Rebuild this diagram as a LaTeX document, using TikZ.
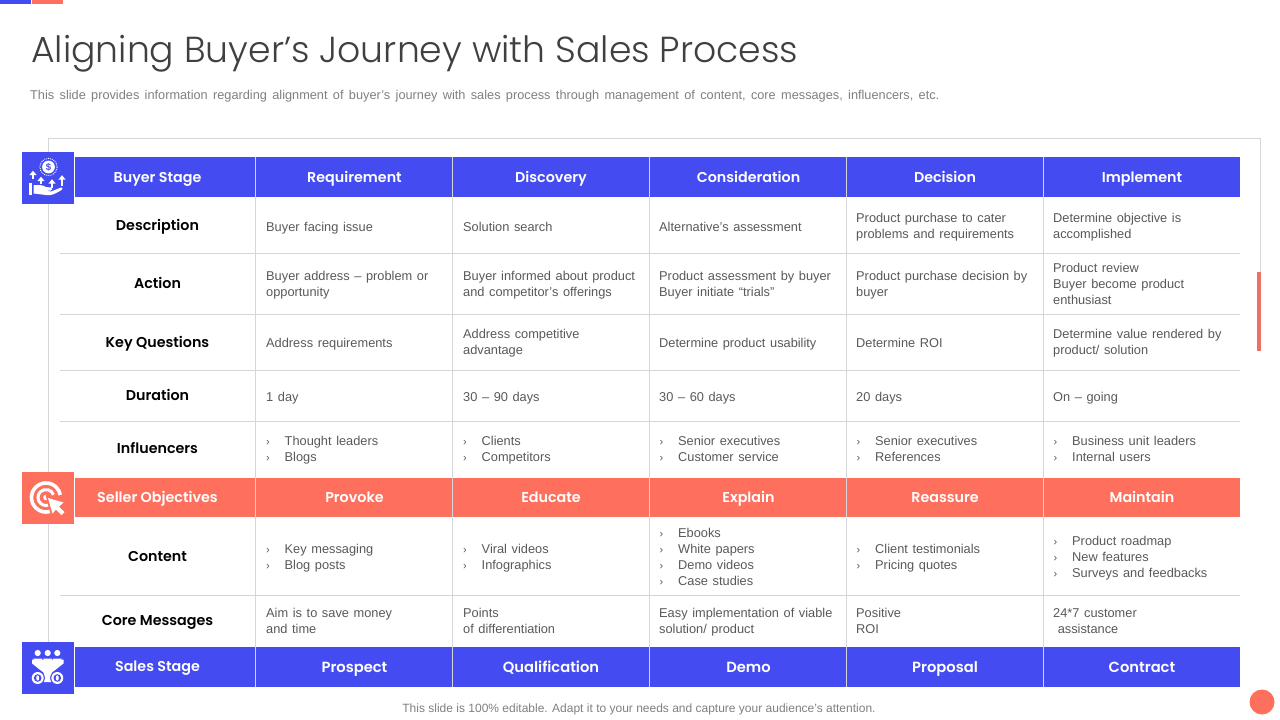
\documentclass[tikz,border=0pt]{standalone}
\usepackage{fontspec}
\setmainfont{Liberation Sans}
\newfontfamily\headf{Poppins SemiBold}
\newfontfamily\titlef{Poppins Light}
\definecolor{blu}{HTML}{444BF0}
\definecolor{cor}{HTML}{FE705D}
\definecolor{txt}{HTML}{595959}
\definecolor{grd}{HTML}{D5D6DA}
\definecolor{ttl}{HTML}{404040}
\tikzset{
 px/.style={x=1pt,y=-1pt},
 cell/.style={anchor=west,inner sep=0pt,yshift=-2pt,align=left,text=txt,font=\fontsize{12.8}{16}\selectfont,execute at begin node={\spaceskip=0.36em plus 1pt\strut},execute at end node={\strut}},
 rowh/.style={anchor=center,inner sep=0pt,yshift=-1.5pt,text height=10pt,text depth=3pt,font=\headf\fontsize{14.3}{16}\selectfont,text=black},
 hdr/.style={anchor=center,inner sep=0pt,yshift=-1.5pt,text height=10pt,text depth=3pt,font=\headf\fontsize{14.3}{16}\selectfont,text=white},
 hdrl/.style={anchor=center,inner sep=0pt,yshift=-1.5pt,text height=11pt,text depth=3pt,font=\headf\fontsize{14.7}{16}\selectfont,text=white},
 gline/.style={draw=grd,line width=0.8pt},
 iconbox/.style={draw=none,minimum width=52pt,minimum height=52pt,inner sep=0pt},
}
\newcommand{\bul}{\makebox[18.5pt][l]{\fontsize{11}{16}\selectfont ›}}
\begin{document}
\begin{tikzpicture}[px]
\useasboundingbox (0,0) rectangle (1280,720);
\fill[white] (0,0) rectangle (1280,720);
\fill[blu] (0,0) rectangle (31,4);
\fill[cor] (32,0) rectangle (63,4);
\node[anchor=west,inner sep=0pt,text=ttl,font=\titlef\fontsize{36.2}{40}\selectfont] (title) at (31,53.5) {Aligning Buyer’s Journey with Sales Process};
\node[anchor=west,inner sep=0pt,text=gray,font=\fontsize{12.75}{14}\selectfont] (sub) at (30,96.5) {\spaceskip=0.42em This slide provides information regarding alignment of buyer’s journey with sales process through management of content, core messages, influencers, etc.};
% frame
\draw[gline] (48,642) -- (48,138) -- (1260,138) -- (1260,351);
\fill[cor!85!gray] (1257,272) rectangle (1261,351);
% bands
\fill[blu] (75,157) rectangle (1240,197);
\fill[cor] (75,477.5) rectangle (1240,517);
\fill[blu] (75,646.5) rectangle (1240,687);
% rows
\foreach \y in {253,314,370,421,595}{\draw[gline] (60,\y) -- (1240,\y);}
\foreach \x in {256,453,650,847,1044}{\draw[gline] (\x-0.3,157) -- (\x-0.3,687);}
% headers
\foreach \n/\x/\t in {a/157.5/Buyer Stage,b/354.5/Requirement,c/551/Discovery,d/748.5/Consideration,e/945/Decision,f/1142/Implement}
 \node[hdr] (h\n) at (\x,177.5) {\t};
\foreach \n/\x/\t in {a/157.5/Seller Objectives,b/354.5/Provoke,c/551/Educate,d/748.5/Explain,e/945/Reassure,f/1142/Maintain}
 \node[hdr] (s\n) at (\x,497.5) {\t};
\node[hdr] (za) at (157.5,666) {Sales Stage};
\foreach \n/\x/\t in {b/354.5/Prospect,c/551/Qualification,d/748.5/Demo,e/945/Proposal,f/1142/Contract}
 \node[hdrl] (z\n) at (\x,667) {\t};
% row heads
\foreach \n/\y/\t in {a/225.5/Description,b/283.5/Action,c/342.5/Key Questions,d/395.5/Duration,e/448.5/Influencers,f/556.5/Content,g/620.5/Core Messages}
 \node[rowh] (r\n) at (157.5,\y) {\t};
% cells
\node[cell] (c11) at (266,226) {Buyer facing issue};
\node[cell] (c12) at (463,226) {Solution search};
\node[cell] (c13) at (659,226) {Alternative's assessment};
\node[cell] (c14) at (856,226) {Product purchase to cater\\problems and requirements};
\node[cell] (c15) at (1053,226) {Determine objective is\\accomplished};
\node[cell] (c21) at (266,284) {Buyer address – problem or\\opportunity};
\node[cell] (c22) at (463,284) {Buyer informed about product\\and competitor’s offerings};
\node[cell] (c23) at (659,284) {Product assessment by buyer\\Buyer initiate “trials”};
\node[cell] (c24) at (856,284) {Product purchase decision by\\buyer};
\node[cell] (c25) at (1053,284) {Product review\\Buyer become product\\enthusiast};
\node[cell] (c31) at (266,342) {Address requirements};
\node[cell] (c32) at (463,342) {Address competitive\\advantage};
\node[cell] (c33) at (659,342) {Determine product usability};
\node[cell] (c34) at (856,342) {Determine ROI};
\node[cell] (c35) at (1053,342) {Determine value rendered by\\product/ solution};
\node[cell] (c41) at (266,396) {1 day};
\node[cell] (c42) at (463,396) {30 – 90 days};
\node[cell] (c43) at (659,396) {30 – 60 days};
\node[cell] (c44) at (856,396) {20 days};
\node[cell] (c45) at (1053,396) {On – going};
\node[cell] (c51) at (266,449) {\bul Thought leaders\\\bul Blogs};
\node[cell] (c52) at (463,449) {\bul Clients\\\bul Competitors};
\node[cell] (c53) at (659.5,449) {\bul Senior executives\\\bul Customer service};
\node[cell] (c54) at (856.5,449) {\bul Senior executives\\\bul References};
\node[cell] (c55) at (1053.5,449) {\bul Business unit leaders\\\bul Internal users};
\node[cell] (c61) at (266,557) {\bul Key messaging\\\bul Blog posts};
\node[cell] (c62) at (463,557) {\bul Viral videos\\\bul Infographics};
\node[cell] (c63) at (659.5,557) {\bul Ebooks\\\bul White papers\\\bul Demo videos\\\bul Case studies};
\node[cell] (c64) at (856.5,557) {\bul Client testimonials\\\bul Pricing quotes};
\node[cell] (c65) at (1053.5,557) {\bul Product roadmap\\\bul New features\\\bul Surveys and feedbacks};
\node[cell] (c71) at (266,621) {Aim is to save money\\and time};
\node[cell] (c72) at (463,621) {Points\\of differentiation};
\node[cell] (c73) at (659,621) {Easy implementation of viable\\solution/ product};
\node[cell] (c74) at (856,621) {Positive\\ROI};
\node[cell] (c75) at (1053,621) {24*7 customer\\\ assistance};
% icon boxes
\node[iconbox,fill=blu] (i1) at (48,178) {};
\node[iconbox,fill=cor] (i2) at (48,498) {};
\node[iconbox,fill=blu] (i3) at (48,668) {};
% icon 1
\begin{scope}[shift={(48,178)}]
 \draw[white,line width=0.9pt,densely dotted] (0.5,-11) circle (8.6);
 \fill[white] (0.5,-11) circle (6.4);
 \node[inner sep=0pt,text=blu,font=\fontsize{9.5}{9.5}\selectfont\bfseries] (dollar) at (0.5,-11) {\$};
 \fill[white] (-19,5) rectangle (-16,17);
 \fill[white] (-14.5,7) -- (-8,7) .. controls (-5,7) and (-4,8.5) .. (-2,9) -- (3,9.5) .. controls (5,10) and (4.5,12.5) .. (2.5,12.5) -- (-3,12.5) -- (3,13.5) -- (13,9.5) .. controls (15,9) and (15,11) .. (13.5,12) .. controls (7,16) and (3,18) .. (-2,17) -- (-14.5,15.5) -- cycle;
 \foreach \x/\a/\b in {-15/1/-6.5,-7/6/-0.5,4/9.5/2,14/8/-2}{
  \draw[white,line width=2.2pt] (\x,\a) -- (\x,\b+2);
  \fill[white] (\x-3.6,\b+3.6) -- (\x,\b-0.8) -- (\x+3.6,\b+3.6) -- cycle;
 }
\end{scope}
% icon 2
\begin{scope}[shift={(48,498)}]
 \draw[white,line width=3.6pt] (-2,-0.5) ++(45:14.5) arc[start angle=45,end angle=350,radius=14.5];
 \draw[white,line width=3pt] (-2,-0.5) ++(45:8) arc[start angle=45,end angle=340,radius=8];
 \fill[white] (-2,-0.5) circle (2.8);
 \fill[cor] (-2.5,-3.5) -- (20,3) -- (15,7.5) -- (20,14) -- (14,20) -- (8,14) -- (3.5,20) -- cycle;
 \fill[white] (0,0) -- (15.5,4.5) -- (11,8.5) -- (16.5,14) -- (13.5,17) -- (8,11.5) -- (4.5,15.5) -- cycle;
\end{scope}
% icon 3
\begin{scope}[shift={(48,668)}]
 \foreach \x in {-10.3,-0.3,9.3}{
  \fill[white] (\x,-15) circle (3.1);
  \fill[white] (\x-4.5,-9.5) arc[start angle=180,end angle=360,x radius=4.5,y radius=-4.2] -- cycle;
 }
 \fill[white] (-16,-8.5) -- (15.5,-8.5) -- (15.5,-4.5) -- (4,4.5) -- (4,14) -- (-4.5,14) -- (-4.5,4.5) -- (-16,-4.5) -- cycle;
 \foreach \x in {-10.3,9.3}{
  \fill[blu] (\x,10) circle (7.2);
  \fill[white] (\x,10) circle (6);
  \fill[blu] (\x,10) circle (3.8);
  \fill[white] (\x,10) ellipse (1.5 and 2.7);
 }
\end{scope}
% footer
\node[anchor=center,inner sep=0pt,text=gray,font=\fontsize{12}{14}\selectfont] (foot) at (639,709) {This slide is 100\% editable. Adapt it to your needs and capture your audience's attention.};
\node[circle,fill=cor,minimum size=25pt,inner sep=0pt] (dot) at (1262,702) {};
\end{tikzpicture}
\end{document}
